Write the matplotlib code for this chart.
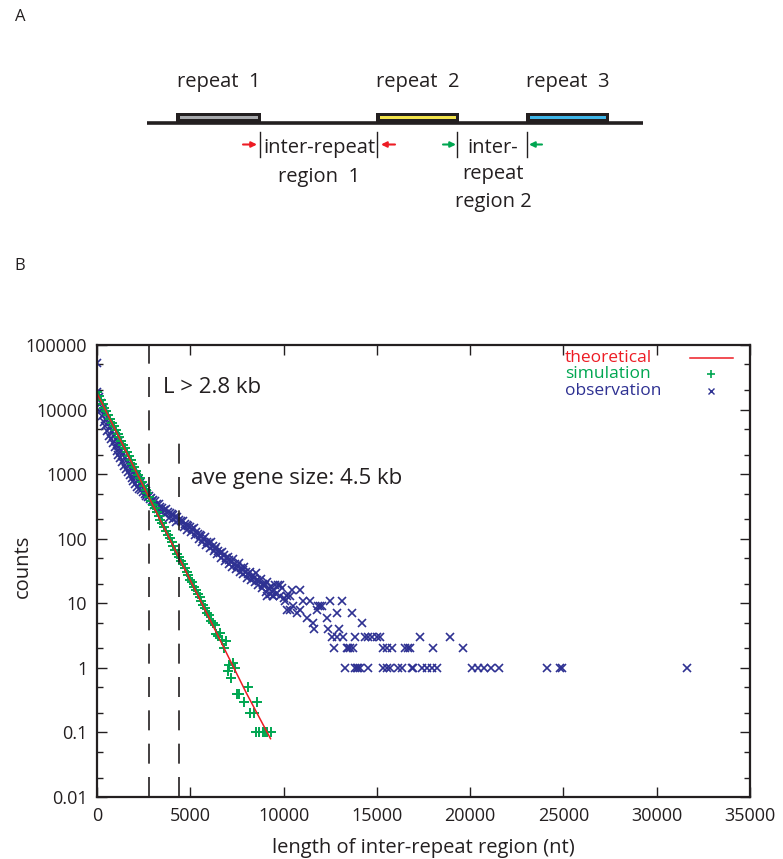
import matplotlib
matplotlib.use('Agg')
import matplotlib.pyplot as plt
from matplotlib.patches import Rectangle
from matplotlib.ticker import FixedLocator, LogLocator, NullFormatter

RED = '#ed1c24'
GREEN = '#00a651'
BLUE = '#2e3192'
INK = '#231f20'

plt.rcParams['font.family'] = ['Open Sans', 'DejaVu Sans']

obs_x = [0, 20,
         100, 200, 300, 400, 500, 600, 700, 800, 900, 1000, 1100, 1200, 1300, 1400, 1500,
         1600, 1700, 1800, 1900, 2000, 2100, 2200, 2300, 2400, 2500, 2600, 2700, 2800, 2900, 3000,
         150, 250, 350, 450, 550, 650, 750, 850, 950, 1050, 1150, 1250, 1350, 1450, 1550,
         1650, 1750, 1850, 1950, 2050, 2150, 2250, 2350, 2450, 2550, 2650, 2750, 2850, 2950,
         3100, 3200, 3300, 3400, 3500, 3600, 3700, 3800, 3900, 4000, 4100, 4200, 4300, 4400, 4500,
         4600, 4700, 4800, 4900, 5000, 5100, 5200, 5300, 5400, 5500, 5600, 5700, 5800, 5900, 6000,
         6100, 6200, 6300, 6400, 6500, 6600, 6700, 6800, 6900, 7000, 7100, 7200, 7300, 7400, 7500,
         7600, 7700, 7800, 7900, 8000, 8100, 8200, 8300, 8400, 8500, 8600, 8700, 8800, 8900, 9000,
         9100, 9200, 9300, 9400, 9500, 9600, 9700, 9800, 9900, 10000,
         3050, 3250, 3450, 3650, 3850, 4050, 4250, 4650, 4850, 5050, 5250, 5450, 5650, 5850, 6050,
         6250, 6450, 6650, 6850, 7050, 7250, 7450, 7650, 7850, 8050, 8250, 8450, 8650, 8850, 9050,
         9250, 9450]
obs_y = [52000, 19000,
         15500, 12500, 10500, 8600, 7200, 6200, 5300, 4600, 4000, 3500, 3100, 2700, 2400, 2100, 1850,
         1650, 1450, 1300, 1150, 1020, 920, 820, 740, 660, 600, 550, 500, 460, 430, 400,
         9500, 8000, 6500, 5500, 4600, 3900, 3500, 3000, 2600, 2300, 2000, 1750, 1550, 1350, 1200,
         1080, 960, 860, 780, 700, 640, 590, 560, 530, 490, 460, 440, 410, 390,
         380, 350, 340, 310, 300, 280, 290, 260, 250, 240, 230, 215, 220, 195, 185,
         190, 170, 165, 160, 150, 140, 145, 125, 120, 115, 110, 100, 105, 90, 85,
         88, 78, 70, 75, 64, 60, 62, 55, 50, 52, 46, 44, 48, 40, 38,
         42, 35, 33, 36, 30, 28, 31, 26, 25, 29, 23, 22, 24, 20, 19,
         21, 17, 18, 15, 16, 14, 19, 13, 17, 12,
         330, 290, 260, 240, 210, 200, 180, 150, 135, 125, 115, 100, 90, 80, 72,
         65, 58, 50, 45, 40, 36, 34, 30, 28, 25, 23, 21, 19, 17, 15,
         14, 13]

# sparse tail of the observed histogram
tail_x = [9110, 9430, 10180, 10340, 8900, 9540, 9810, 10450, 10880,
          10080, 11040, 11420, 12490, 13130, 10510, 11850, 11950, 12060,
          10200, 10360, 10900, 11790, 10720, 12860, 13670, 11260, 12330,
          11580, 14200, 11630, 12380, 12970,
          12600, 12880, 13190, 13830, 14360, 14530, 14740, 15010, 15170, 17310, 18920,
          12700, 13400, 13450, 13560, 13720, 15330, 15540, 15810, 16510, 16670, 16780, 18010, 19620,
          13290, 13830, 13940, 13990, 14100, 14530, 15330, 15540, 15700, 16130, 16350, 16880,
          16940, 17420, 17690, 17960, 18220, 20100, 20420, 20740, 21120, 21550, 24100, 24800,
          24950, 31600]
tail_y = [13, 13, 13, 13, 19, 19, 19, 16, 16,
          11, 11, 11, 11, 11, 9, 9, 9, 9,
          8, 8, 8, 8, 7, 7, 7, 6, 6,
          5, 5, 4, 4, 4,
          3, 3, 3, 3, 3, 3, 3, 3, 3, 3, 3,
          2, 2, 2, 2, 2, 2, 2, 2, 2, 2, 2, 2, 2,
          1, 1, 1, 1, 1, 1, 1, 1, 1, 1, 1, 1,
          1, 1, 1, 1, 1, 1, 1, 1, 1, 1, 1, 1,
          1, 1]

# simulated counts (green +)
sim_x = [0, 100, 200, 300, 400, 500, 600, 700, 800, 900, 1000, 1100, 1200, 1300, 1400,
         1500, 1600, 1700, 1800, 1900, 2000, 2100, 2200, 2300, 2400, 2500, 2600, 2700, 2800, 2900,
         3000, 3100, 3200, 3300, 3400, 3500, 3600, 3700, 3800, 3900, 4000, 4100, 4200, 4300, 4400,
         4500, 4600, 4700, 4800, 4900, 5000, 5100, 5200, 5300, 5400, 5500, 5600, 5700, 5800, 5900,
         6000, 6100, 6200, 6300, 6400, 6500, 6600, 6700, 6800, 6900, 7000, 7100, 7200, 7300, 7400,
         7500, 7600, 7900, 8100, 8200, 8400, 8500, 8600, 8700, 8900, 9000, 9100, 9300]
sim_y = [19000, 16000, 14000, 12200, 10700, 9400, 8200, 7200, 6300, 5500, 4800, 4200, 3700, 3250, 2850,
         2500, 2180, 1900, 1670, 1460, 1280, 1120, 980, 860, 750, 660, 575, 505, 440, 385,
         337, 295, 258, 226, 198, 173, 151, 132, 116, 101, 89, 78, 68, 59, 52,
         45, 40, 35, 30, 27, 23, 21, 18, 16, 14, 12.5, 11, 9.5, 8.6, 7.0,
         6.5, 5.4, 5.0, 4.6, 3.4, 3.1, 3.5, 2.7, 2.0, 2.6, 0.9, 1.1, 0.7, 1.2, 1.0,
         0.4, 0.4, 0.3, 0.5, 0.2, 0.2, 0.1, 0.3, 0.1, 0.1, 0.1, 0.1, 0.1]

# theoretical curve (red)
theory_x = [0, 2000, 4000, 6000, 8000, 9300]
theory_y = [18000, 1250, 86, 6.0, 0.41, 0.08]

cut_len = 2800     # L > 2.8 kb
gene_len = 4400    # ave gene size marker
gene_top = 3800

xticks = [0, 5000, 10000, 15000, 20000, 25000, 30000, 35000]
yticks = [0.01, 0.1, 1, 10, 100, 1000, 10000, 100000]
ytick_labels = ['0.01', '0.1', '1', '10', '100', '1000', '10000', '100000']

fig = plt.figure(figsize=(7.83, 8.59), dpi=100)

# ---- panel A: schematic, drawn in pixel coordinates ----
sk = fig.add_axes([0, 0, 1, 1])
sk.set_xlim(0, 783)
sk.set_ylim(859, 0)
sk.axis('off')

sk.text(20, 17, 'A', fontsize=12, color=INK, ha='center', va='center')
sk.text(20, 266, 'B', fontsize=12, color=INK, ha='center', va='center')

sk.plot([147, 643], [122.5, 122.5], color=INK, lw=2.6, solid_capstyle='butt')
boxes = [(176, 261, '#a7a9ac', 'repeat  1'),
         (376, 459, '#f2e34b', 'repeat  2'),
         (526, 609, '#3fb6e8', 'repeat  3')]
dfont = dict(fontsize=14.5, color=INK)
for x0, x1, col, lab in boxes:
    sk.add_patch(Rectangle((x0, 113), x1 - x0, 10, facecolor=INK, edgecolor='none'))
    sk.add_patch(Rectangle((x0 + 3.5, 116.2), x1 - x0 - 7, 3, facecolor=col, edgecolor='none'))
    sk.text((x0 + x1) / 2, 82, lab, ha='center', va='center', **dfont)

for bx in [260, 377, 457, 527]:
    sk.plot([bx, bx], [132, 157], color=INK, lw=1)
arrows = [(243, 257, RED), (395, 381, RED), (443, 456, GREEN), (542, 529, GREEN)]
for xa, xb, col in arrows:
    sk.annotate('', xy=(xb, 144.5), xytext=(xa, 144.5),
                arrowprops=dict(arrowstyle='-|>', color=col, lw=1.5, mutation_scale=8,
                                shrinkA=0, shrinkB=0))

sk.text(319, 148, 'inter-repeat', ha='center', va='center', **dfont)
sk.text(319, 177, 'region  1', ha='center', va='center', **dfont)
sk.text(493, 148, 'inter-', ha='center', va='center', **dfont)
sk.text(493, 174, 'repeat', ha='center', va='center', **dfont)
sk.text(493, 202, 'region 2', ha='center', va='center', **dfont)

# ---- panel B: histogram of inter-repeat lengths ----
ax = fig.add_axes([97 / 783, 1 - 797 / 859, 653 / 783, 452 / 859])
ax.set_yscale('log')
ax.set_xlim(0, 35000)
ax.set_ylim(0.01, 100000)

ax.plot(obs_x, obs_y, linestyle='none', marker='x', color=BLUE, ms=6, mew=1.2)
ax.plot(tail_x, tail_y, linestyle='none', marker='x', color=BLUE, ms=6, mew=1.2)
ax.plot(sim_x, sim_y, linestyle='none', marker='+', color=GREEN, ms=7.5, mew=1.4)
ax.plot(theory_x, theory_y, color=RED, lw=1.1)

ax.axvline(cut_len, color=INK, lw=1.2, dashes=(12, 8))
ax.plot([gene_len, gene_len], [0.01, gene_top], color=INK, lw=1.2, dashes=(12, 8))
ax.text(3540, 21600, 'L > 2.8 kb', fontsize=16, color=INK, va='center')
ax.text(5040, 870, 'ave gene size: 4.5 kb', fontsize=16, color=INK, va='center')

# legend drawn by hand: label left, sample on the right
leg = [('theoretical', RED, 0.972), ('simulation', GREEN, 0.935), ('observation', BLUE, 0.898)]
for lab, col, yy in leg:
    ax.text(0.717, yy, lab, transform=ax.transAxes, color=col, fontsize=12.5, va='center')
ax.plot([0.908, 0.974], [0.972, 0.972], transform=ax.transAxes, color=RED, lw=1.1)
ax.plot([0.940], [0.935], transform=ax.transAxes, marker='+', color=GREEN, ms=6, mew=1.2)
ax.plot([0.940], [0.898], transform=ax.transAxes, marker='x', color=BLUE, ms=5, mew=1.0)

ax.xaxis.set_major_locator(FixedLocator(xticks))
ax.set_xticklabels([str(v) for v in xticks])
ax.yaxis.set_major_locator(FixedLocator(yticks))
ax.set_yticklabels(ytick_labels)
ax.yaxis.set_minor_locator(LogLocator(base=10, subs=(2, 5), numticks=30))
ax.yaxis.set_minor_formatter(NullFormatter())
ax.tick_params(which='both', direction='in', top=True, right=True, colors=INK,
               labelsize=13, pad=7)
ax.tick_params(which='major', length=7, width=1)
ax.tick_params(which='minor', length=4, width=1)
for sp in ax.spines.values():
    sp.set_linewidth(1.6)
    sp.set_color(INK)

ax.set_xlabel('length of inter-repeat region (nt)', fontsize=14.5, color=INK)
ax.xaxis.set_label_coords(0.5, -0.09)
ax.set_ylabel('counts', fontsize=14.5, color=INK)
ax.yaxis.set_label_coords(-0.098, 0.51)

fig.savefig('out.png', dpi=100)
